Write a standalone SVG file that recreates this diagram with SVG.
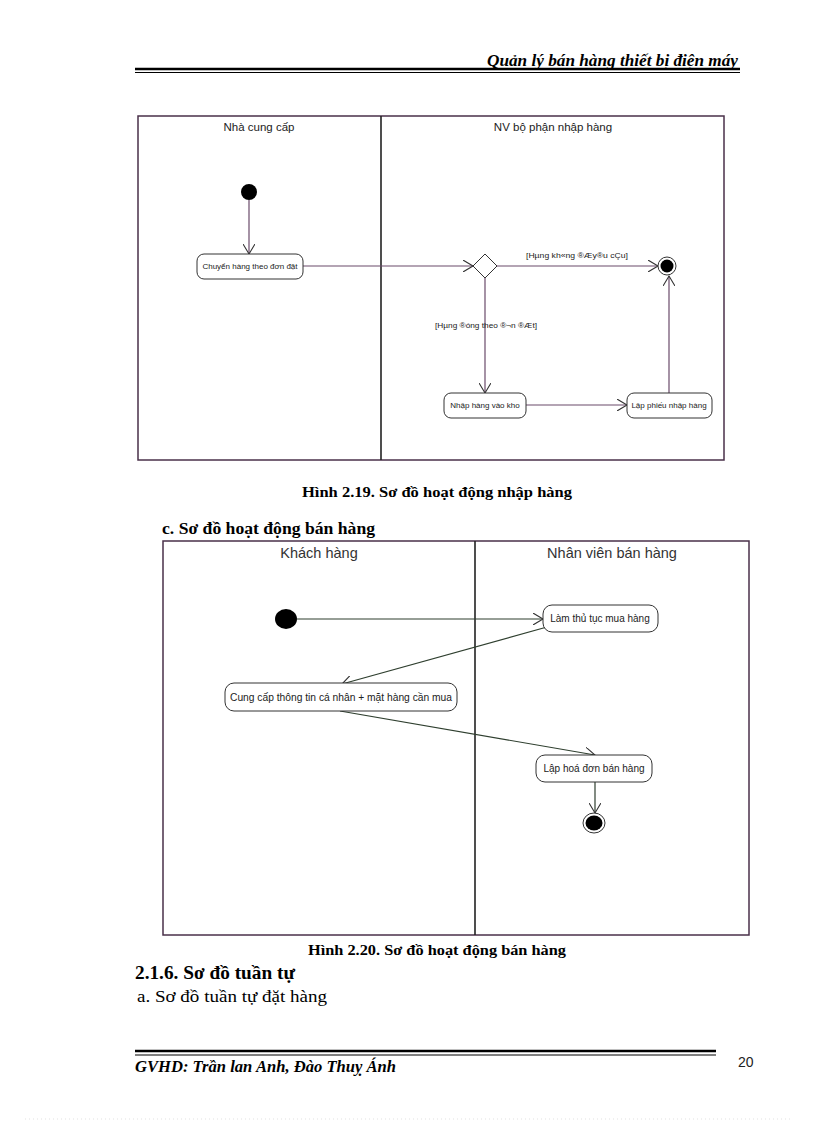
<svg xmlns="http://www.w3.org/2000/svg" width="816" height="1123" viewBox="0 0 816 1123">
<defs>
<style>
.serif{font-family:"Liberation Serif","Times New Roman",serif;}
.sans{font-family:"Liberation Sans",Arial,sans-serif;}
.lane{fill:none;stroke:#4a304a;stroke-width:1.5;}
.div{stroke:#222;stroke-width:1.6;}
.act{fill:#fff;stroke:#333;stroke-width:1;}
.ln1{fill:none;stroke:#6a4a6a;stroke-width:1.2;}
.ln2{fill:none;stroke:#2f3f2f;stroke-width:1.2;}
.t1{font-size:8px;fill:#222;}
.t2{font-size:10px;fill:#222;}
.hd{font-size:11.5px;fill:#222;}
.hd2{font-size:14.5px;fill:#333;}
</style>
<marker id="arr" markerWidth="12" markerHeight="12" refX="10" refY="6" orient="auto" markerUnits="userSpaceOnUse">
<path d="M0,0 L10,6 L0,12" fill="none" stroke="#333" stroke-width="1.1"/>
</marker>
</defs>
<rect width="816" height="1123" fill="#fff"/>

<g id="header">
<text class="serif" x="487" y="66" font-size="16" font-style="italic" font-weight="bold" textLength="251" lengthAdjust="spacingAndGlyphs">Quản lý bán hàng thiết bị điện máy</text>
<line x1="135" y1="69" x2="740" y2="69" stroke="#000" stroke-width="2.5"/>
<line x1="135" y1="72.5" x2="740" y2="72.5" stroke="#000" stroke-width="1"/>
</g>

<g id="diagram1">
<rect class="lane" x="138" y="116" width="586" height="344"/>
<line class="div" x1="381" y1="116" x2="381" y2="460"/>
<text class="sans hd" x="259" y="131" text-anchor="middle">Nhà cung cấp</text>
<text class="sans hd" x="553" y="131" text-anchor="middle">NV bộ phận nhập hàng</text>
</g>

<g id="connectors1">
<line class="ln1" x1="249" y1="200" x2="249" y2="254" marker-end="url(#arr)"/>
<line class="ln1" x1="303" y1="266" x2="473" y2="266" marker-end="url(#arr)"/>
<line class="ln1" x1="497" y1="266" x2="658" y2="266" marker-end="url(#arr)"/>
<line class="ln1" x1="485" y1="278" x2="485" y2="393" marker-end="url(#arr)"/>
<line class="ln1" x1="526" y1="405" x2="627" y2="405" marker-end="url(#arr)"/>
<line class="ln1" x1="669" y1="393" x2="669" y2="276" marker-end="url(#arr)"/>
<text class="sans t1" x="526" y="258" textLength="102" lengthAdjust="spacingAndGlyphs">[Hµng kh«ng ®Æy®u cÇu]</text>
<text class="sans t1" x="435" y="328" textLength="102" lengthAdjust="spacingAndGlyphs">[Hµng ®óng theo ®¬n ®Æt]</text>
</g>

<g id="start1"><circle cx="249" cy="192" r="8" fill="#000"/></g>
<g id="a_chuyenhang">
<rect class="act" x="197" y="254" width="106" height="25" rx="7"/>
<text class="sans t1" x="250" y="269" text-anchor="middle">Chuyển hàng theo đơn đặt</text>
</g>
<g id="decision1"><path d="M485,254 L497,266 L485,278 L473,266 Z" fill="#fff" stroke="#333" stroke-width="1"/></g>
<g id="end1"><circle cx="667" cy="266" r="9" fill="#fff" stroke="#333" stroke-width="1"/><circle cx="667" cy="266" r="6.5" fill="#000"/></g>
<g id="a_nhapkho">
<rect class="act" x="444" y="393" width="82" height="25" rx="7"/>
<text class="sans t1" x="485" y="408" text-anchor="middle">Nhập hàng vào kho</text>
</g>
<g id="a_lapphieu">
<rect class="act" x="627" y="393" width="85" height="25" rx="7"/>
<text class="sans t1" x="669" y="408" text-anchor="middle">Lập phiếu nhập hàng</text>
</g>

<g id="caption1">
<text class="serif" x="302" y="497" font-size="15" font-weight="bold" textLength="270" lengthAdjust="spacingAndGlyphs">Hình 2.19. Sơ đồ hoạt động nhập hàng</text>
<text class="serif" x="162" y="534" font-size="16" font-weight="bold" textLength="213" lengthAdjust="spacingAndGlyphs">c. Sơ đồ hoạt động bán hàng</text>
</g>

<g id="diagram2">
<rect class="lane" x="163" y="541" width="586" height="394"/>
<line class="div" x1="475" y1="541" x2="475" y2="935"/>
<text class="sans hd2" x="319" y="558" text-anchor="middle">Khách hàng</text>
<text class="sans hd2" x="612" y="558" text-anchor="middle">Nhân viên bán hàng</text>
</g>

<g id="connectors2">
<line class="ln2" x1="297" y1="619" x2="543" y2="619" marker-end="url(#arr)"/>
<line class="ln2" x1="547" y1="627" x2="342" y2="684" marker-end="url(#arr)"/>
<line class="ln2" x1="340" y1="711" x2="595" y2="755" marker-end="url(#arr)"/>
<line class="ln2" x1="595" y1="782" x2="595" y2="813" marker-end="url(#arr)"/>
</g>

<g id="start2"><ellipse cx="286" cy="619" rx="11" ry="10" fill="#000"/></g>
<g id="a_lamthutuc">
<rect class="act" x="543" y="605" width="115" height="27" rx="9"/>
<text class="sans t2" x="600" y="622" text-anchor="middle">Làm thủ tục mua hàng</text>
</g>
<g id="a_cungcap">
<rect class="act" x="225" y="683" width="232" height="28" rx="9"/>
<text class="sans t2" x="230" y="701" textLength="222" lengthAdjust="spacingAndGlyphs">Cung cấp thông tin cá nhân + mặt hàng cần mua</text>
</g>
<g id="a_laphoadon">
<rect class="act" x="536" y="755" width="116" height="27" rx="9"/>
<text class="sans t2" x="594" y="772" text-anchor="middle">Lập hoá đơn bán hàng</text>
</g>
<g id="end2"><ellipse cx="594" cy="823" rx="11" ry="10" fill="#fff" stroke="#333" stroke-width="1"/><ellipse cx="594" cy="823" rx="8.5" ry="7.5" fill="#000"/></g>

<g id="texts">
<text class="serif" x="308" y="955" font-size="15" font-weight="bold" textLength="258" lengthAdjust="spacingAndGlyphs">Hình 2.20. Sơ đồ hoạt động bán hàng</text>
<text class="serif" x="135" y="979" font-size="18" font-weight="bold" textLength="160" lengthAdjust="spacingAndGlyphs">2.1.6. Sơ đồ tuần tự</text>
<text class="serif" x="137" y="1002" font-size="16" textLength="190" lengthAdjust="spacingAndGlyphs">a. Sơ đồ tuần tự đặt hàng</text>
</g>

<g id="footer">
<line x1="135" y1="1051" x2="716" y2="1051" stroke="#000" stroke-width="2.5"/>
<line x1="135" y1="1055" x2="716" y2="1055" stroke="#000" stroke-width="1"/>
<text class="serif" x="135" y="1072" font-size="16" font-style="italic" font-weight="bold" textLength="261" lengthAdjust="spacingAndGlyphs">GVHD: Trần lan Anh, Đào Thuỵ Ánh</text>
<text class="sans" x="738" y="1067" font-size="14" fill="#222">20</text>
<line x1="25" y1="1119" x2="790" y2="1119" stroke="#ccc" stroke-width="0.6" stroke-dasharray="1,3"/>
</g>
</svg>
